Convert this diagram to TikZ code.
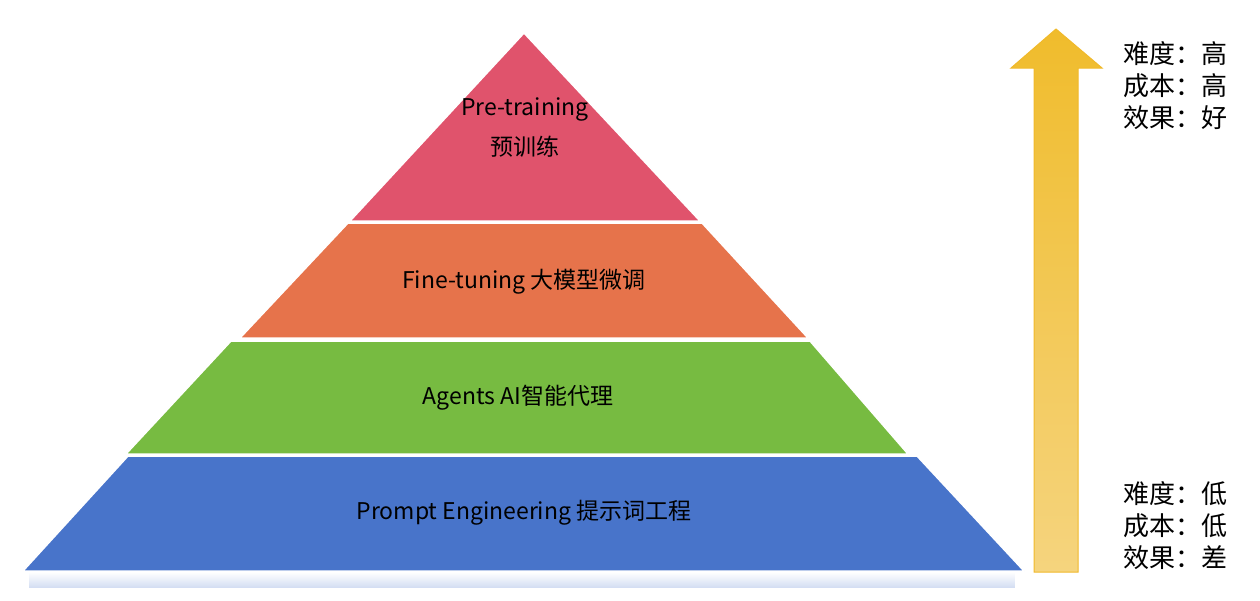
\documentclass[tikz,border=0pt]{standalone}
\usepackage{fontspec}
\setmainfont{Noto Sans CJK SC}
\usetikzlibrary{fadings}
\definecolor{layerpink}{HTML}{E0536C}
\definecolor{layerorange}{HTML}{E6734B}
\definecolor{layergreen}{HTML}{77BB41}
\definecolor{layerblue}{HTML}{4874CA}
\definecolor{arrowtop}{HTML}{F0BC2C}
\definecolor{arrowbot}{HTML}{F5D47E}
\definecolor{arrowline}{HTML}{F0B92A}
\begin{document}
\begin{tikzpicture}[x=1pt,y=-1pt,
	layer/.style={draw=white,line width=1.5pt,line join=round},
	lbl/.style={font=\fontsize{23}{40}\selectfont,align=center,inner sep=0pt},
	side/.style={font=\fontsize{26}{32}\selectfont,align=left,anchor=north west,inner sep=0pt}]
	\useasboundingbox (0,0) rectangle (1260,600);

	%shadow under the base
	\fill[layerblue,opacity=0.25,path fading=north] (30,572) rectangle (1018,588);

	%layers
	\fill[layer,fill=layerpink] (524,33) -- (700,221) -- (350,221) -- cycle; %top
	\fill[layer,fill=layerorange] (348,223) -- (702,223) -- (808,338) -- (240,338) -- cycle;
	\fill[layer,fill=layergreen] (231,341) -- (810,341) -- (908,454) -- (126,454) -- cycle;
	\fill[layer,fill=layerblue] (128,456) -- (917,456) -- (1024,571) -- (23,571) -- cycle; %base

	%labels
	\node[lbl] (pre) at (525,127) {Pre-training\\预训练};
	\node[lbl] (fine) at (524,282) {Fine-tuning 大模型微调};
	\node[lbl] (agent) at (518,398) {Agents AI智能代理};
	\node[lbl] (prompt) at (524,513) {Prompt Engineering 提示词工程};

	%arrow
	\shade[top color=arrowtop,bottom color=arrowbot,draw=arrowline,line width=1pt]
	  (1056,29) -- (1102,68) -- (1078,68) -- (1078,572) -- (1034,572) -- (1034,68) -- (1011,68) -- cycle;

	%side texts
	\node[side] (high) at (1123,41) {难度：高\\成本：高\\效果：好};
	\node[side] (low) at (1123,481) {难度：低\\成本：低\\效果：差};
\end{tikzpicture}
\end{document}
